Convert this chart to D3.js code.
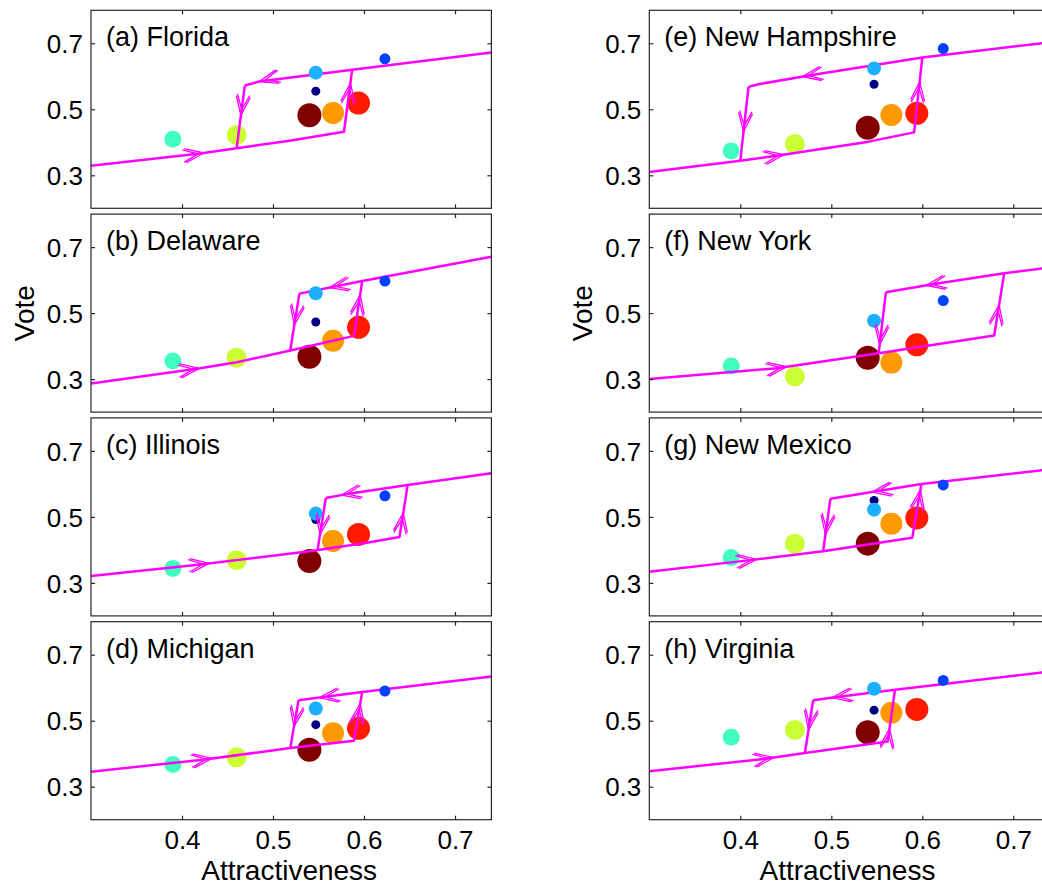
<!DOCTYPE html>
<html><head><meta charset="utf-8">
<script src="https://cdn.jsdelivr.net/npm/d3@7"></script>
<style>body{margin:0;background:#fff;} svg{display:block;font-family:Arial,"Liberation Sans",sans-serif;}</style>
</head><body><svg id="c" width="1042" height="888"></svg>
<script>
const titles = ["(a) Florida","(b) Delaware","(c) Illinois","(d) Michigan",
  "(e) New Hampshire","(f) New York","(g) New Mexico","(h) Virginia"];
const xTicks = [0.4,0.5,0.6,0.7];
const yTicks = [0.3,0.5,0.7];
// points (ordered: navy, blue, light blue, aquamarine, yellow-green, orange, red, maroon)
const pointX = [0.547,0.623,0.547,0.39,0.46,0.566,0.594,0.54];
const pointColors = ["#000080","#0040ff","#1ab0ff","#40ffbf","#ccff33","#ff9900","#ff1a00","#800000"];
const pointRadii = [4.5,5.5,7,8.5,10,11,11.5,12];
const pointY = [
  [0.555,0.653,0.611,0.409,0.422,0.489,0.519,0.482],
  [0.473,0.597,0.560,0.355,0.365,0.416,0.457,0.368],
  [0.492,0.564,0.510,0.344,0.369,0.427,0.447,0.366],
  [0.488,0.590,0.537,0.367,0.389,0.462,0.477,0.412],
  [0.576,0.684,0.624,0.374,0.395,0.483,0.488,0.444],
  [0.477,0.538,0.477,0.340,0.308,0.350,0.404,0.365],
  [0.550,0.597,0.522,0.377,0.419,0.479,0.497,0.419],
  [0.532,0.622,0.597,0.450,0.472,0.524,0.534,0.465]
];
// hysteresis loop: lower branch (x from 0.3 to right fold), upper branch (left fold to 0.74)
const lowerBranches = [
  [[0.3,0.329],[0.42,0.366],[0.46,0.382],[0.518,0.405],[0.578,0.432]],
  [[0.3,0.287],[0.42,0.333],[0.46,0.351],[0.518,0.386],[0.589,0.431]],
  [[0.3,0.321],[0.42,0.356],[0.54,0.396],[0.6,0.42],[0.639,0.439]],
  [[0.3,0.345],[0.423,0.382],[0.519,0.417],[0.589,0.439]],
  [[0.3,0.31],[0.4,0.344],[0.44,0.359],[0.541,0.402],[0.591,0.43]],
  [[0.3,0.30],[0.44,0.333],[0.552,0.378],[0.62,0.407],[0.679,0.432]],
  [[0.3,0.334],[0.411,0.369],[0.491,0.396],[0.589,0.437]],
  [[0.3,0.347],[0.426,0.384],[0.471,0.402],[0.562,0.437]]
];
const upperBranches = [
  [[0.469,0.572],[0.485,0.584],[0.587,0.620],[0.74,0.672]],
  [[0.529,0.559],[0.598,0.597],[0.74,0.671]],
  [[0.558,0.557],[0.587,0.572],[0.648,0.597],[0.74,0.632]],
  [[0.528,0.562],[0.598,0.587],[0.74,0.634]],
  [[0.409,0.568],[0.42,0.576],[0.477,0.603],[0.6,0.657],[0.74,0.703]],
  [[0.56,0.563],[0.613,0.588],[0.69,0.621],[0.74,0.638]],
  [[0.499,0.555],[0.56,0.582],[0.599,0.6],[0.74,0.644]],
  [[0.48,0.562],[0.506,0.572],[0.57,0.594],[0.74,0.649]]
];
const upJumpTop = [[0.587,0.620],[0.598,0.597],[0.648,0.597],[0.598,0.587],
  [0.6,0.657],[0.69,0.621],[0.599,0.6],[0.57,0.594]];
const downJumpBottom = [[0.46,0.382],[0.519,0.388],[0.549,0.40],[0.519,0.417],
  [0.40,0.344],[0.552,0.378],[0.491,0.396],[0.471,0.402]];
// arrow locations
const lowerArrowX = [0.424,0.419,0.43,0.433,0.448,0.451,0.418,0.437];
const upperArrowX = [0.485,0.562,0.575,0.551,0.468,0.604,0.545,0.501];
const downArrowY = [0.482,0.464,0.447,0.482,0.432,0.404,0.447,0.472];
const upArrowY = [0.579,0.555,0.512,0.552,0.583,0.525,0.582,0.477];

const svg = d3.select("#c");
const colLeft = [91, 649.3];
const plotW = 400.4, plotH = 198, rowTop = 10.3, rowStep = 203.8;
const MAG = "#ff00ff", FRAME = "#262626";
const defs = svg.append("defs");

function interpX(pts, xv){
  for(let k=0;k<pts.length-1;k++){
    const a=pts[k], b=pts[k+1];
    const lo=Math.min(a[0],b[0]), hi=Math.max(a[0],b[0]);
    if(xv>=lo && xv<=hi){ const t=(xv-a[0])/(b[0]-a[0]); return [a, b, [xv, a[1]+t*(b[1]-a[1])]]; }
  }
  const a=pts[0], b=pts[1]; return [a,b,[xv,a[1]]];
}

titles.forEach((t,i)=>{
  const col = Math.floor(i/4), row = i%4;
  const x0 = colLeft[col], top = rowTop + row*rowStep;
  const x = d3.scaleLinear().domain([0.3,0.74]).range([x0, x0+plotW]);
  const y = d3.scaleLinear().domain([0.2,0.8]).range([top+plotH, top]);
  const clipId = "clip"+i;
  defs.append("clipPath").attr("id",clipId).append("rect")
    .attr("x",x0).attr("y",top).attr("width",plotW).attr("height",plotH);
  const g = svg.append("g");
  const pg = g.append("g").attr("clip-path",`url(#${clipId})`);
  const line = d3.line().x(d=>x(d[0])).y(d=>y(d[1]));
  const stroke = sel => sel.attr("fill","none").attr("stroke",MAG).attr("stroke-width",2.5).attr("stroke-linejoin","round");

  pg.append("path").attr("d", line(upperBranches[i])).call(stroke);
  pg.selectAll("circle").data(pointX).join("circle")
    .attr("cx",(d)=>x(d)).attr("cy",(d,k)=>y(pointY[i][k]))
    .attr("r",(d,k)=>pointRadii[k]).attr("fill",(d,k)=>pointColors[k]);
  pg.append("path").attr("d", line(lowerBranches[i].concat([upJumpTop[i]]))).call(stroke);
  pg.append("path").attr("d", line([upperBranches[i][0], downJumpBottom[i]])).call(stroke);

  function arrow(p0, p1, tip){
    const ax=x(p0[0]), ay=y(p0[1]), bx=x(p1[0]), by=y(p1[1]);
    let dx=bx-ax, dy=by-ay; const L=Math.hypot(dx,dy); dx/=L; dy/=L;
    const tx=x(tip[0]), ty=y(tip[1]);
    let d="";
    [[0,20,0.36],[6,16,0.40]].forEach(([off,len,ang])=>{
      const sx=tx-dx*off, sy=ty-dy*off;
      [ang,-ang].forEach(a=>{
        const rx = dx*Math.cos(a)-dy*Math.sin(a), ry = dx*Math.sin(a)+dy*Math.cos(a);
        d += `M${sx},${sy}L${sx-rx*len},${sy-ry*len}`;
      });
    });
    pg.append("path").attr("d",d).attr("fill","none").attr("stroke",MAG).attr("stroke-width",1.3);
  }
  { const r = interpX(lowerBranches[i], lowerArrowX[i]); const a=r[0], b=r[1];
    arrow(a[0]<b[0]?a:b, a[0]<b[0]?b:a, r[2]); }
  { const r = interpX(upperBranches[i], upperArrowX[i]); const a=r[0], b=r[1];
    arrow(a[0]>b[0]?a:b, a[0]>b[0]?b:a, r[2]); }
  { const a=upperBranches[i][0], b=downJumpBottom[i];
    const tt=(downArrowY[i]-a[1])/(b[1]-a[1]);
    arrow(a,b,[a[0]+tt*(b[0]-a[0]), downArrowY[i]]); }
  { const lb=lowerBranches[i]; const a=lb[lb.length-1], b=upJumpTop[i];
    const tt=(upArrowY[i]-a[1])/(b[1]-a[1]);
    arrow(a,b,[a[0]+tt*(b[0]-a[0]), upArrowY[i]]); }

  g.append("rect").attr("x",x0).attr("y",top).attr("width",plotW).attr("height",plotH)
    .attr("fill","none").attr("stroke",FRAME).attr("stroke-width",1.2);
  const styleAxis = sel => { sel.select(".domain").remove(); sel.attr("color",FRAME)
      .attr("font-size",26).attr("font-family","Arial, 'Liberation Sans', sans-serif");
      sel.selectAll(".tick line").attr("stroke-width",1.2); };
  g.append("g").attr("transform",`translate(${x0},0)`)
    .call(d3.axisLeft(y).tickValues(yTicks).tickSize(-4).tickPadding(8).tickFormat(d3.format(".1f")))
    .call(styleAxis).selectAll("text").attr("fill","#000").attr("dy","0.35em");
  g.append("g").attr("transform",`translate(${x0+plotW},0)`)
    .call(d3.axisRight(y).tickValues(yTicks).tickSize(-4).tickFormat(""))
    .call(styleAxis);
  g.append("g").attr("transform",`translate(0,${top})`)
    .call(d3.axisTop(x).tickValues(xTicks).tickSize(-4).tickFormat(""))
    .call(styleAxis);
  const bottomAx = d3.axisBottom(x).tickValues(xTicks).tickSize(-4).tickPadding(11);
  if(row!==3) bottomAx.tickFormat(""); else bottomAx.tickFormat(d3.format(".1f"));
  g.append("g").attr("transform",`translate(0,${top+plotH})`)
    .call(bottomAx).call(styleAxis).selectAll("text").attr("fill","#000");

  g.append("text").attr("x",x0+15).attr("y",top+36).attr("font-size",27).attr("fill","#000").text(t);

  if(row===3){
    g.append("text").attr("x",x0+plotW/2-2).attr("y",top+plotH+60).attr("text-anchor","middle")
      .attr("font-size",28).attr("fill","#000").text("Attractiveness");
  }
  if(row===1){
    g.append("text").attr("transform",`translate(${x0-57},${top+plotH/2}) rotate(-90)`)
      .attr("text-anchor","middle").attr("font-size",28).attr("fill","#000").text("Vote");
  }
});
</script></body></html>
